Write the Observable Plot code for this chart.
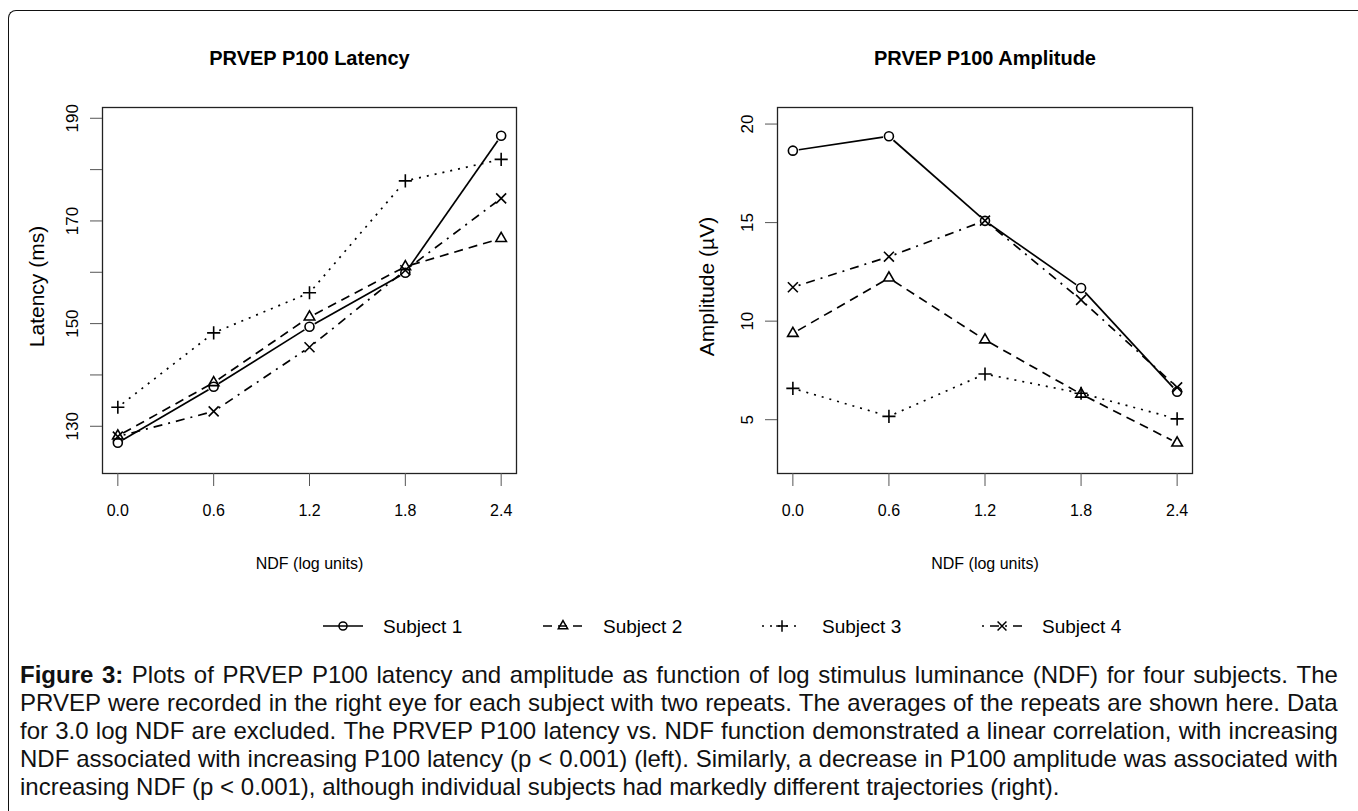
<!DOCTYPE html>
<html><head><meta charset="utf-8">
<script src="https://cdn.jsdelivr.net/npm/d3@7"></script>
<script src="https://cdn.jsdelivr.net/npm/@observablehq/plot@0.6"></script>
<style>
html,body{margin:0;padding:0;background:#fff;}
#page{position:relative;width:1358px;height:811px;overflow:hidden;font-family:"Liberation Sans",Arial,sans-serif;color:#000;}
#border{position:absolute;left:8px;top:10px;width:1400px;height:900px;border-left:1.5px solid #111;border-top:1.5px solid #111;border-top-left-radius:8px;}
.panel{position:absolute;top:0;}
#legend{position:absolute;left:0;top:600px;}
#caption{position:absolute;left:20px;width:1318px;top:661px;font-size:24px;line-height:28px;color:#111;}
#caption .ln{display:flex;justify-content:space-between;white-space:nowrap;}
#caption .ln.last{justify-content:flex-start;gap:0.278em;}
</style></head>
<body><div id="page"><div id="border"></div>
<div id="left" class="panel" style="left:0px"></div>
<div id="right" class="panel" style="left:680px"></div>
<div id="legend"></div>
<div id="caption"></div>
</div>
<script>
// ---- data ----
const ndf = [0, 0.6, 1.2, 1.8, 2.4];
const ndfLabels = ["0.0", "0.6", "1.2", "1.8", "2.4"];
const subjects = ["Subject 1", "Subject 2", "Subject 3", "Subject 4"];

const latencyS1 = [126.8, 137.7, 149.4, 159.9, 186.6];
const latencyS2 = [128.1, 138.5, 151.3, 161.1, 166.6];
const latencyS3 = [133.7, 148.2, 156.0, 177.8, 182.0];
const latencyS4 = [128.0, 132.9, 145.4, 160.4, 174.4];

const amplitudeS1 = [18.65, 19.38, 15.09, 11.68, 6.42];
const amplitudeS2 = [9.38, 12.19, 9.05, 6.30, 3.82];
const amplitudeS3 = [6.59, 5.17, 7.32, 6.34, 5.04];
const amplitudeS4 = [11.72, 13.27, 15.10, 11.08, 6.64];

const latencyTicks = [130, 140, 150, 160, 170, 180, 190];
const latencyTickLabels = [130, 150, 170, 190];
const amplitudeTicks = [5, 10, 15, 20];
const amplitudeTickLabels = [5, 10, 15, 20];

const captionLines = [
  "Figure 3: Plots of PRVEP P100 latency and amplitude as function of log stimulus luminance (NDF) for four subjects. The",
  "PRVEP were recorded in the right eye for each subject with two repeats. The averages of the repeats are shown here. Data",
  "for 3.0 log NDF are excluded. The PRVEP P100 latency vs. NDF function demonstrated a linear correlation, with increasing",
  "NDF associated with increasing P100 latency (p < 0.001) (left).  Similarly, a decrease in P100 amplitude was associated with",
  "increasing NDF (p < 0.001), although individual subjects had markedly different trajectories (right)."
];

// ---- styles ----
const symbols = ["circle", "triangle", "plus", "times"];
const symbolR = [4.5, 3.9, 4.3, 4.6];
const dashes = ["none", "9,6", "2,6", "2,6,9,6"];

function buildPanel(series, opts) {
  const rows = [], segs = [];
  series.forEach((vals, s) => {
    vals.forEach((v, i) => {
      rows.push({subject: subjects[s], x: ndf[i], y: v});
      if (i < vals.length - 1) segs.push({subject: subjects[s], x1: ndf[i], y1: v, x2: ndf[i + 1], y2: vals[i + 1]});
    });
  });
  const marks = [Plot.frame({stroke: "#222", strokeWidth: 1.3})];
  subjects.forEach((sub, s) => {
    marks.push(Plot.arrow(segs.filter(d => d.subject === sub), {
      x1: "x1", y1: "y1", x2: "x2", y2: "y2", headLength: 0, insetStart: 6, insetEnd: 6,
      stroke: "black", strokeWidth: 1.7, strokeDasharray: dashes[s], strokeLinecap: "butt"
    }));
  });
  subjects.forEach((sub, s) => {
    marks.push(Plot.dot(rows.filter(d => d.subject === sub), {
      x: "x", y: "y", symbol: symbols[s], r: symbolR[s], stroke: "black", fill: "none", strokeWidth: 1.6
    }));
  });
  marks.push(
    Plot.axisX({ticks: ndf, tickFormat: d => ndfLabels[ndf.indexOf(d)], tickSize: 13, tickPadding: 18, stroke: "#555", label: null, fontSize: 16}),
    Plot.axisY({ticks: opts.yTicks, tickFormat: () => "", tickSize: 12, stroke: "#555", label: null}),
    Plot.text(opts.yTickLabels, {y: d => d, text: d => String(d), frameAnchor: "left", dx: opts.yTickDx, rotate: -90, textAnchor: "middle", lineAnchor: "middle", fontSize: 17}),
    Plot.text([opts.title], {frameAnchor: "top", dy: -49, lineAnchor: "middle", fontWeight: "bold", fontSize: 20}),
    Plot.text(["NDF (log units)"], {frameAnchor: "bottom", dy: 90, lineAnchor: "middle", fontSize: 16}),
    Plot.text([opts.ylabel], {frameAnchor: "left", dx: opts.ylabelDx, dy: -4, rotate: -90, textAnchor: "middle", lineAnchor: "middle", fontSize: 21})
  );
  return Plot.plot({
    width: opts.width, height: 600,
    marginLeft: opts.marginLeft, marginRight: opts.marginRight, marginTop: 107, marginBottom: 127,
    x: {domain: [-0.096, 2.496]},
    y: {domain: opts.yDomain},
    style: {fontFamily: "'Liberation Sans', Arial, sans-serif", fontSize: "17px", color: "black", background: "transparent", overflow: "visible"},
    marks
  });
}

document.getElementById("left").append(buildPanel(
  [latencyS1, latencyS2, latencyS3, latencyS4],
  {width: 680, marginLeft: 102, marginRight: 164, yDomain: [120.8, 192.1], yTicks: latencyTicks, yTickLabels: latencyTickLabels,
   yTickDx: -30, ylabelDx: -65, title: "PRVEP P100 Latency", ylabel: "Latency (ms)"}
));
document.getElementById("right").append(buildPanel(
  [amplitudeS1, amplitudeS2, amplitudeS3, amplitudeS4],
  {width: 678, marginLeft: 97, marginRight: 166, yDomain: [2.27, 20.84], yTicks: amplitudeTicks, yTickLabels: amplitudeTickLabels,
   yTickDx: -30, ylabelDx: -70, title: "PRVEP P100 Amplitude", ylabel: "Amplitude (\u00b5V)"}
));

// ---- legend ----
const legendX = [343, 563, 782, 1002];
const lsvg = d3.select("#legend").append("svg").attr("width", 1358).attr("height", 50)
  .style("font-family", "'Liberation Sans', Arial, sans-serif");
const symMap = {circle: d3.symbolCircle, triangle: d3.symbolTriangle, plus: d3.symbolPlus, times: d3.symbolTimes};
subjects.forEach((sub, s) => {
  const g = lsvg.append("g").attr("transform", `translate(${legendX[s]},26)`);
  g.append("line").attr("x1", -20).attr("x2", 20).attr("stroke", "black").attr("stroke-width", 1.7)
    .attr("stroke-dasharray", dashes[s]);
  g.append("path").attr("d", d3.symbol(symMap[symbols[s]], Math.PI * symbolR[s] * symbolR[s] * 0.8)())
    .attr("fill", "none").attr("stroke", "black").attr("stroke-width", 1.5);
  g.append("text").attr("x", 40).attr("dy", "0.35em").attr("font-size", 19).text(sub);
});

// ---- caption (justified lines as in the reference) ----
const cap = d3.select("#caption");
captionLines.forEach((line, li) => {
  const div = cap.append("div").attr("class", li === captionLines.length - 1 ? "ln last" : "ln");
  line.split(/\s+/).forEach((w, wi) => {
    const sp = div.append("span").text(w);
    if (li === 0 && wi < 2) sp.style("font-weight", "bold");
  });
});
</script>
</body></html>
